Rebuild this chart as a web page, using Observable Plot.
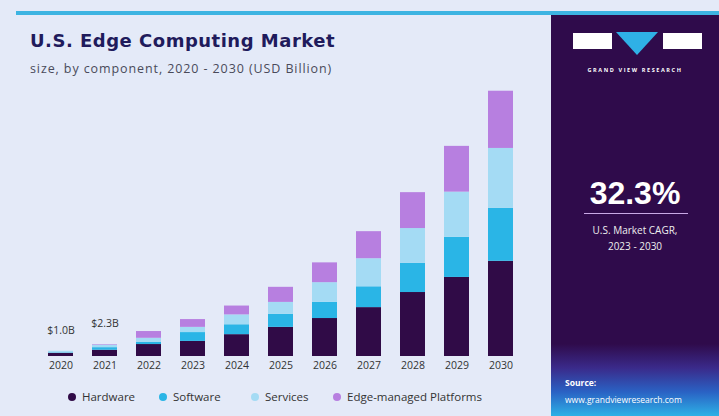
<!DOCTYPE html>
<html>
<head>
<meta charset="utf-8">
<script src="https://cdn.jsdelivr.net/npm/d3@7"></script>
<script src="https://cdn.jsdelivr.net/npm/@observablehq/plot@0.6"></script>
<style>
  html, body { margin: 0; padding: 0; }
  body { width: 719px; height: 416px; overflow: hidden; background: #e4eaf8; font-family: "Open Sans", "Liberation Sans", sans-serif; }
  #wrap { position: relative; width: 719px; height: 416px; background: #e4eaf8; }
  #topline { position: absolute; left: 16px; top: 11px; width: 703px; height: 4px; background: #3db4e2; }
  #title { position: absolute; left: 30px; top: 30px; font-family: "DejaVu Sans", sans-serif; font-weight: bold; font-size: 18px; color: #1f1b5c; letter-spacing: 0.5px; }
  #subtitle { position: absolute; left: 30px; top: 60px; font-size: 12.5px; letter-spacing: 0.9px; color: #4a4a5a; }
  #chart { position: absolute; left: 0; top: 75px; }
  #legend { position: absolute; left: 0; top: 389px; width: 550px; height: 16px; font-size: 11.5px; color: #333; }
  #legend span.item { position: absolute; top: 0; display: inline-flex; align-items: center; white-space: nowrap; }
  #legend span.dot { width: 8px; height: 8px; border-radius: 50%; display: inline-block; margin-right: 6px; }
  #panel { position: absolute; left: 551px; top: 15px; width: 168px; height: 401px;
    background: linear-gradient(to bottom, #2f0b4b 0%, #2f0b4b 82%, #3a2a8a 88%, #2a62c4 94%, #2db1e6 100%); }
  .pt { position: absolute; width: 168px; text-align: center; color: #fff; }
</style>
</head>
<body>
<div id="wrap">
  <div id="topline"></div>
  <div id="title">U.S. Edge Computing Market</div>
  <div id="subtitle">size, by component, 2020 - 2030 (USD Billion)</div>
  <div id="chart"></div>
  <div id="legend"></div>
  <div id="panel">
    <div style="position:absolute;left:22px;top:18px;width:39px;height:16px;background:#fff;"></div>
    <svg style="position:absolute;left:65px;top:17px;" width="42" height="24"><polygon points="0,0 42,0 21,23" fill="#2fb0e6"/></svg>
    <div style="position:absolute;left:112px;top:18px;width:39px;height:16px;background:#fff;"></div>
    <div class="pt" style="top:51px;font-size:5.5px;letter-spacing:1.6px;font-weight:bold;">GRAND VIEW RESEARCH</div>
    <div class="pt" style="top:160px;font-size:32px;font-weight:bold;font-family:'Liberation Sans',sans-serif;">32.3%</div>
    <div style="position:absolute;left:33px;top:198px;width:104px;height:1px;background:#c9a9e6;"></div>
    <div class="pt" style="top:208px;font-size:10px;color:#eee;">U.S. Market CAGR,</div>
    <div class="pt" style="top:224px;font-size:10px;color:#eee;">2023 - 2030</div>
    <div style="position:absolute;left:14px;top:362px;font-size:8.5px;color:#fff;font-weight:bold;">Source:</div>
    <div style="position:absolute;left:14px;top:379px;font-size:8.5px;color:#fff;">www.grandviewresearch.com</div>
  </div>
</div>
<script>
const years = ["2020","2021","2022","2023","2024","2025","2026","2027","2028","2029","2030"];
const segments = ["Hardware","Software","Services","Edge-managed Platforms"];
const colors = ["#300b47","#2ab5e6","#a4dbf4","#b77fe0"];
const hardware = [0.6, 1.2, 2.3, 2.9, 4.2, 5.6, 7.3, 9.4, 12.3, 15.2, 18.3];
const software = [0.1, 0.5, 0.4, 1.7, 1.9, 2.5, 3.1, 4.0, 5.6, 7.7, 10.2];
const services = [0.3, 0.5, 0.8, 1.0, 1.9, 2.3, 3.8, 5.4, 6.7, 8.7, 11.5];
const edgePlatforms = [0.0, 0.1, 1.3, 1.5, 1.7, 2.9, 3.8, 5.2, 6.9, 8.8, 11.0];
const labelYears = ["2020","2021"];
const labelText = ["$1.0B","$2.3B"];
const legendLeft = [68, 159, 251, 333];

const series = [hardware, software, services, edgePlatforms];
const rows = [];
years.forEach((y, i) => segments.forEach((s, j) => rows.push({year: y, segment: s, value: series[j][i]})));
const totals = years.map((y, i) => ({year: y, total: series.reduce((a, s) => a + s[i], 0)}));
const labels = labelYears.map((y, i) => ({year: y, text: labelText[i], total: totals.find(t => t.year === y).total}));

const plot = Plot.plot({
  width: 550,
  height: 300,
  marginLeft: 25,
  marginRight: 15,
  marginTop: 10,
  marginBottom: 19,
  style: {background: "transparent", fontFamily: "'Open Sans', sans-serif", fontSize: "10.5px", color: "#333"},
  x: {domain: years, padding: 0.44, label: null, tickSize: 0, tickPadding: 5},
  y: {domain: [0, 52.1], axis: null},
  color: {domain: segments, range: colors},
  marks: [
    Plot.barY(rows, {x: "year", y: "value", fill: "segment", order: segments}),
    Plot.text(labels, {x: "year", y: "total", text: "text", dy: -21, fill: "#333", fontSize: 10.5})
  ]
});
document.getElementById("chart").appendChild(plot);

const legend = document.getElementById("legend");
segments.forEach((s, i) => {
  const item = document.createElement("span");
  item.className = "item";
  item.style.left = legendLeft[i] + "px";
  const dot = document.createElement("span");
  dot.className = "dot";
  dot.style.background = colors[i];
  item.appendChild(dot);
  item.appendChild(document.createTextNode(s));
  legend.appendChild(item);
});
</script>
</body>
</html>
